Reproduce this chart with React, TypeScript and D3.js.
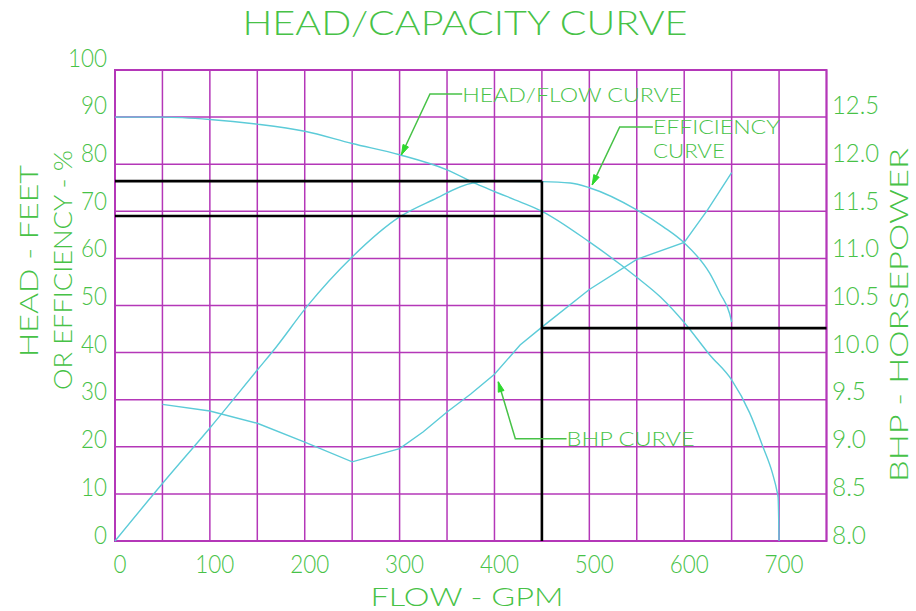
import React from 'react';
import * as d3 from 'd3';

// ---------- data ----------
const flowTicks = [0, 100, 200, 300, 400, 500, 600, 700];
const leftTicks = [0, 10, 20, 30, 40, 50, 60, 70, 80, 90, 100];
const rightTicks = [8.0, 8.5, 9.0, 9.5, 10.0, 10.5, 11.0, 11.5, 12.0, 12.5];

const headFlow = [0, 50, 100, 150, 200, 250, 300, 350, 381, 400, 427, 450, 500, 550, 575, 600, 627, 650, 669, 683, 693, 698, 699, 700];
const headFeet = [90, 90, 89.5, 88.5, 87, 84.4, 82, 78.8, 75.8, 74.2, 72, 70, 63.5, 56, 51.8, 46.4, 39.5, 34.2, 27.2, 20, 14.4, 10.4, 9.3, 0];

const effFlow = [0, 50, 100, 150, 170, 202, 250, 300, 335, 377, 400, 450, 480, 500, 550, 578, 600, 627, 638, 648, 650];
const effPct = [0, 12.2, 24, 36.3, 41.2, 49.7, 60.3, 68.8, 72.4, 76, 76.4, 76.3, 76, 75, 70.3, 66.7, 63.3, 56.8, 52.5, 48.2, 46.5];

const bhpFlow = [50, 100, 150, 200, 250, 300, 325, 350, 375, 400, 427, 450, 500, 550, 600, 625, 650];
const bhpHp = [9.45, 9.38, 9.25, 9.05, 8.84, 8.98, 9.16, 9.37, 9.56, 9.77, 10.08, 10.27, 10.67, 10.99, 11.17, 11.52, 11.91];

// operating point reference lines
const opFlow = 450;
const opEff = 76.4;
const opHead = 69;
const opBhp = 10.26;

// annotations: [tip, corner, textStart] in data units (flow, left-axis value)
const annoNames = ['HEAD/FLOW CURVE', 'EFFICIENCY', 'BHP CURVE'];
const annoTip = [[302, 82], [503, 75.6], [404, 33.8]];
const annoCorner = [[332, 94.9], [532, 87.9], [422, 21.7]];
const annoTextStart = [[366, 94.9], [567, 87.9], [476, 21.7]];
const annoTextLen = [220, 127, 128];

// ---------- layout ----------
const W = 916;
const H = 611;
const L = 115, R = 826.5, T = 70, B = 541;

const GREEN = '#47c247';
const GRID = '#b437b8';
const CYAN = '#5ccbd8';
const FONT = "Lato, 'DejaVu Sans', sans-serif";

export default function App() {
  const x = d3.scaleLinear().domain([0, 750]).range([L, R]);
  const yL = d3.scaleLinear().domain([0, 100]).range([B, T]);
  const yR = d3.scaleLinear().domain([8, 13]).range([B, T]);
  // tick labels in the drawing sit slightly off the grid lines
  const labelY = d3.scaleLinear().domain([0, 100]).range([534, 57]);
  const labelYR = d3.scaleLinear().domain([8, 13]).range([534, 57]);

  const gridX = d3.range(0, 751, 50);
  const gridY = d3.range(0, 101, 10);

  const lineL = d3.line<[number, number]>().x(d => x(d[0])).y(d => yL(d[1])).curve(d3.curveMonotoneX);
  const lineR = d3.line<[number, number]>().x(d => x(d[0])).y(d => yR(d[1])).curve(d3.curveLinear);

  const headPts = headFlow.map((f, i) => [f, headFeet[i]] as [number, number]);
  const effPts = effFlow.map((f, i) => [f, effPct[i]] as [number, number]);
  const bhpPts = bhpFlow.map((f, i) => [f, bhpHp[i]] as [number, number]);

  const numLen = (s: string) => s.replace('.', '').length * 13 + (s.includes('.') ? 8 : 0);

  const arrow = (tip: number[], corner: number[]) => {
    const tx = x(tip[0]), ty = yL(tip[1]);
    const cx = x(corner[0]), cy = yL(corner[1]);
    const dx = cx - tx, dy = cy - ty;
    const len = Math.hypot(dx, dy);
    const ux = dx / len, uy = dy / len;
    const al = 10, aw = 3;
    const bx = tx + ux * al, by = ty + uy * al;
    return `M${tx},${ty}L${bx - uy * aw},${by + ux * aw}L${bx + uy * aw},${by - ux * aw}Z`;
  };

  return (
    <svg width={W} height={H} style={{ position: 'absolute', left: 0, top: 0, background: '#fff' }}
      fontFamily={FONT} fontWeight={300}>
      <rect x={0} y={0} width={W} height={H} fill="#fff" />
      {/* title */}
      <text x={465} y={35} fontSize={34} fill={GREEN} textAnchor="middle" textLength={445} lengthAdjust="spacingAndGlyphs">HEAD/CAPACITY CURVE</text>

      {/* grid */}
      {gridX.map(v => (
        <line key={'gx' + v} x1={x(v)} x2={x(v)} y1={yL(0)} y2={yL(100)} stroke={GRID} strokeWidth={1.5} />
      ))}
      {gridY.map(v => (
        <line key={'gy' + v} x1={x(0)} x2={x(750)} y1={yL(v)} y2={yL(v)} stroke={GRID} strokeWidth={1.5} />
      ))}
      <rect x={x(0)} y={yL(100)} width={x(750) - x(0)} height={yL(0) - yL(100)} fill="none" stroke={GRID} strokeWidth={2} />

      {/* curves */}
      <path d={lineL(headPts) || ''} fill="none" stroke={CYAN} strokeWidth={1.4} />
      <path d={lineL(effPts) || ''} fill="none" stroke={CYAN} strokeWidth={1.4} />
      <path d={lineR(bhpPts) || ''} fill="none" stroke={CYAN} strokeWidth={1.4} />

      {/* operating point lines */}
      <g stroke="#000" strokeWidth={2.6} fill="none">
        <line x1={x(0)} x2={x(opFlow)} y1={yL(opEff)} y2={yL(opEff)} />
        <line x1={x(0)} x2={x(opFlow)} y1={yL(opHead)} y2={yL(opHead)} />
        <line x1={x(opFlow)} x2={x(opFlow)} y1={yL(opEff)} y2={yL(0)} />
        <line x1={x(opFlow)} x2={x(750)} y1={yR(opBhp)} y2={yR(opBhp)} />
      </g>

      {/* annotations */}
      {annoNames.map((name, i) => {
        const tip = annoTip[i], c = annoCorner[i], ts = annoTextStart[i];
        return (
          <g key={name}>
            <polyline points={`${x(tip[0])},${yL(tip[1])} ${x(c[0])},${yL(c[1])} ${x(ts[0])},${yL(ts[1])}`}
              fill="none" stroke={GREEN} strokeWidth={1.5} />
            <path d={arrow(tip, c)} fill="#2ed82e" stroke="#2ed82e" strokeWidth={1} />
            <text x={x(ts[0])} y={yL(ts[1]) + 7.5} fontSize={20} fill={GREEN} textLength={annoTextLen[i]} lengthAdjust="spacingAndGlyphs">{name}</text>
          </g>
        );
      })}
      <text x={x(annoTextStart[1][0])} y={yL(annoTextStart[1][1]) + 31} fontSize={20} fill={GREEN} textLength={72} lengthAdjust="spacingAndGlyphs">CURVE</text>

      {/* left tick labels */}
      {leftTicks.map(v => (
        <text key={'l' + v} x={107} y={labelY(v) + 9.5} fontSize={26} fill={GREEN} textAnchor="end"
          textLength={numLen(String(v))} lengthAdjust="spacingAndGlyphs">{v}</text>
      ))}
      {/* right tick labels */}
      {rightTicks.map(v => (
        <text key={'r' + v} x={832} y={labelYR(v) + 9.5} fontSize={26} fill={GREEN}
          textLength={numLen(v.toFixed(1))} lengthAdjust="spacingAndGlyphs">{v.toFixed(1)}</text>
      ))}
      {/* bottom tick labels */}
      {flowTicks.map(v => (
        <text key={'b' + v} x={x(v) + 5} y={573} fontSize={26} fill={GREEN} textAnchor="middle"
          textLength={numLen(String(v))} lengthAdjust="spacingAndGlyphs">{v}</text>
      ))}

      {/* axis titles */}
      <text x={467} y={606} fontSize={26} fill={GREEN} textAnchor="middle" textLength={193} lengthAdjust="spacingAndGlyphs">FLOW - GPM</text>
      <text transform="translate(37.5,261) rotate(-90)" fontSize={26} fill={GREEN} textAnchor="middle" textLength={192} lengthAdjust="spacingAndGlyphs">HEAD - FEET</text>
      <text transform="translate(71.5,270) rotate(-90)" fontSize={26} fill={GREEN} textAnchor="middle" textLength={240} lengthAdjust="spacingAndGlyphs">OR EFFICIENCY - %</text>
      <text transform="translate(907.5,315) rotate(-90)" fontSize={26} fill={GREEN} textAnchor="middle" textLength={334} lengthAdjust="spacingAndGlyphs">BHP - HORSEPOWER</text>
    </svg>
  );
}
